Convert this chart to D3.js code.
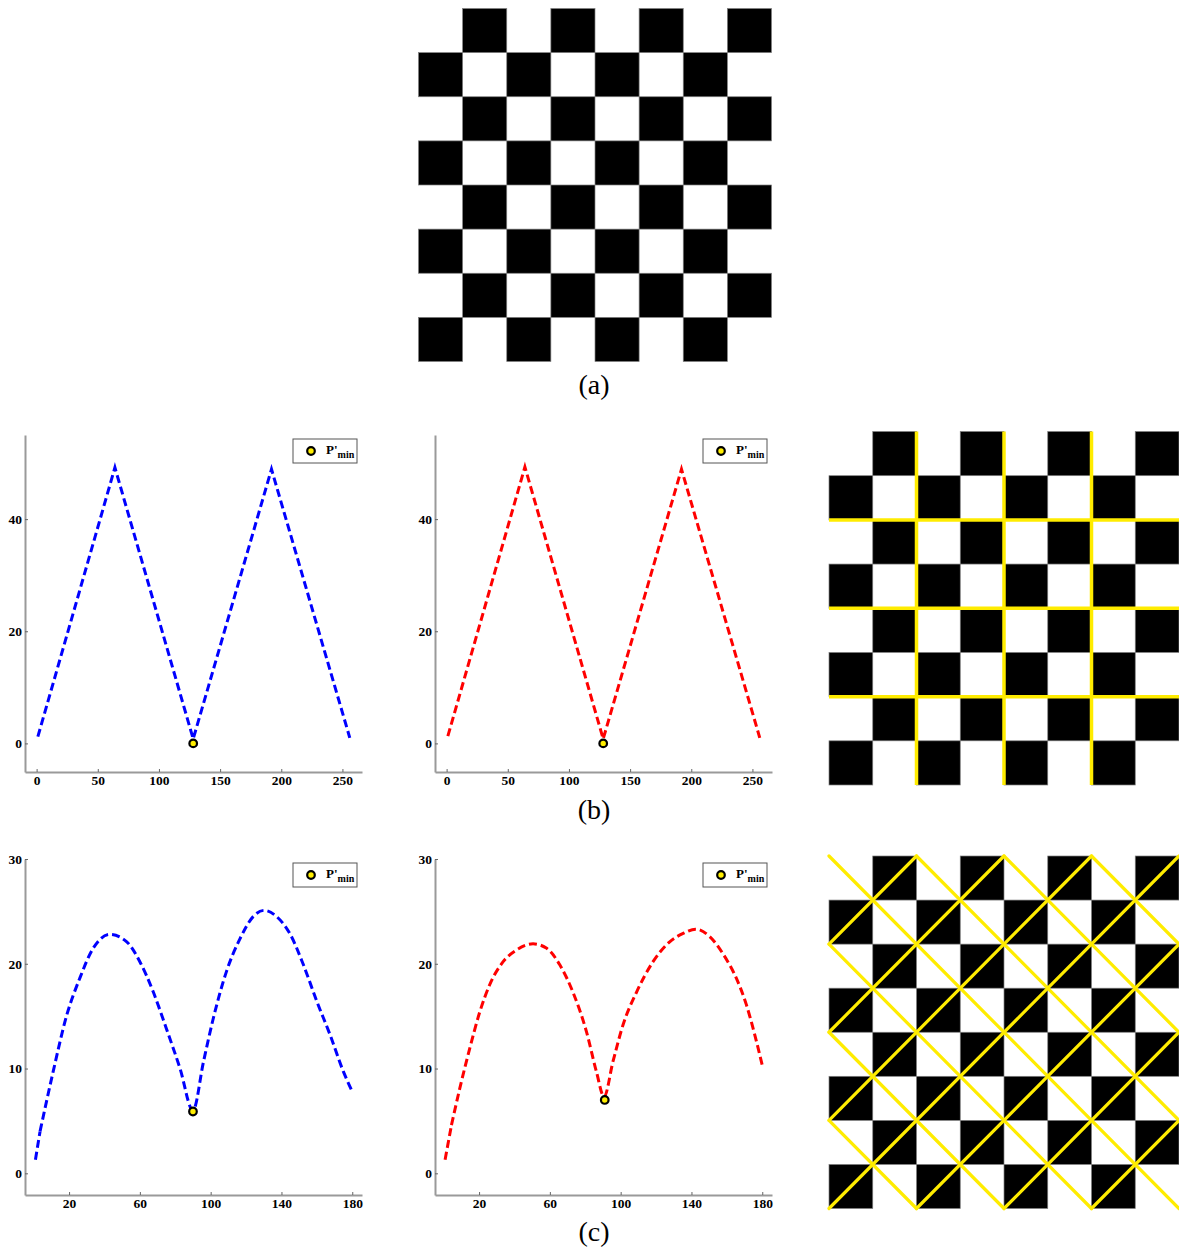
<!DOCTYPE html>
<html><head><meta charset="utf-8">
<script src="https://cdn.jsdelivr.net/npm/d3@7"></script>
<style>body{margin:0;background:#fff}svg{display:block}</style>
</head><body><svg id="chart" width="1179" height="1249"></svg>
<script>
// ---------- data ----------
const boardPattern = [
  "01010101",
  "10101010",
  "01010101",
  "10101010",
  "01010101",
  "10101010",
  "01010101",
  "10101010"
];
const boardBGridLines = [2, 4, 6];
const boardCMainDiag = [-6, -4, -2, 0, 2, 4, 6];   // c - r
const boardCAntiDiag = [2, 4, 6, 8, 10, 12, 14];   // c + r

const bX = [1, 64, 128, 192, 256];
const bBlue = [1.2, 49.2, 0.8, 48.9, 1.0];
const bRed = [1.3, 49.3, 0.8, 48.9, 1.0];
const bMinBlue = [128, 0];
const bMinRed = [128, 0];
const bXTicks = [0, 50, 100, 150, 200, 250];
const bYTicks = [0, 20, 40];

const cXBlue = [1, 3.6, 11, 18.7, 26, 33.7, 43, 52.6, 60, 67.6, 75, 82.7, 90,
                96, 101.5, 109, 116.6, 124, 130.3, 137.3, 145, 152.4, 160, 167.5, 175, 180];
const cBlue  = [1.3, 4.0, 9.7, 15.1, 18.6, 21.5, 22.8, 22.1, 20.2, 17.3, 13.8, 10.0, 6.0,
                10.7, 14.8, 19.3, 22.4, 24.5, 25.1, 24.5, 22.8, 19.9, 16.4, 13.2, 9.7, 7.8];
const cXRed = [0.8, 4.4, 9.1, 14.7, 20.4, 26, 33.6, 41, 50.5, 58, 65.6, 73, 80.7, 86.3, 90.6,
               95.7, 101.4, 109, 118.3, 127.7, 135.3, 142.4, 150.3, 158, 165.4, 171, 175.8, 180];
const cRed  = [1.3, 4.6, 8.1, 11.9, 15.4, 18.0, 20.2, 21.3, 21.9, 21.5, 19.9, 17.3, 13.5, 9.7, 7.3,
               10.7, 14.2, 17.3, 20.2, 22.1, 22.9, 23.3, 22.6, 20.9, 18.6, 16.1, 13.2, 10.3];
const cMinBlue = [90, 5.9];
const cMinRed = [91, 7.0];
const cXTicks = [20, 60, 100, 140, 180];
const cYTicks = [0, 10, 20, 30];

const legendMain = "P'";
const legendSub = "min";
const panelLabels = ["(a)", "(b)", "(c)"];

// ---------- drawing ----------
const svg = d3.select("#chart");
const YELLOW = "#ffec00";
const SERIF = "'Liberation Serif', 'Times New Roman', serif";

function drawBoard(x0, y0, w, h) {
  const g = svg.append("g");
  const cols = d3.range(boardPattern[0].length);
  const rows = d3.range(boardPattern.length);
  const xs = d3.scaleBand().domain(cols).range([x0, x0 + w]);
  const ys = d3.scaleBand().domain(rows).range([y0, y0 + h]);
  const cells = [];
  rows.forEach(r => cols.forEach(c => cells.push({r, c, v: boardPattern[r][c]})));
  g.selectAll("rect").data(cells.filter(d => d.v === "1")).join("rect")
    .attr("x", d => xs(d.c)).attr("y", d => ys(d.r))
    .attr("width", xs.bandwidth()).attr("height", ys.bandwidth())
    .attr("fill", "#000").attr("stroke", "#808080").attr("stroke-width", 0.7);
  const lx = d3.scaleLinear().domain([0, cols.length]).range([x0, x0 + w]);
  const ly = d3.scaleLinear().domain([0, rows.length]).range([y0, y0 + h]);
  return {g, lx, ly, n: cols.length};
}

// (a)
drawBoard(418.5, 8.5, 353, 353);

// (b) right board with grid lines
{
  const {g, lx, ly, n} = drawBoard(829, 431.5, 350, 353.5);
  g.selectAll("line.v").data(boardBGridLines).join("line").attr("class", "v")
    .attr("x1", d => lx(d)).attr("x2", d => lx(d)).attr("y1", ly(0)).attr("y2", ly(n))
    .attr("stroke", YELLOW).attr("stroke-width", 3.5);
  g.selectAll("line.h").data(boardBGridLines).join("line").attr("class", "h")
    .attr("y1", d => ly(d)).attr("y2", d => ly(d)).attr("x1", lx(0)).attr("x2", lx(n))
    .attr("stroke", YELLOW).attr("stroke-width", 3.5);
}

// (c) right board with diagonals
{
  const {g, lx, ly, n} = drawBoard(829, 856, 350, 352.5);
  const mainSegs = boardCMainDiag.map(k => {
    const c1 = Math.max(0, k), c2 = Math.min(n, n + k);
    return [[c1, c1 - k], [c2, c2 - k]];
  });
  const antiSegs = boardCAntiDiag.map(k => {
    const c1 = Math.max(0, k - n), c2 = Math.min(n, k);
    return [[c1, k - c1], [c2, k - c2]];
  });
  g.selectAll("line.d").data(mainSegs.concat(antiSegs)).join("line").attr("class", "d")
    .attr("x1", d => lx(d[0][0])).attr("y1", d => ly(d[0][1]))
    .attr("x2", d => lx(d[1][0])).attr("y2", d => ly(d[1][1]))
    .attr("stroke", YELLOW).attr("stroke-width", 3.2).attr("stroke-linecap", "round");
}

function drawPlot(opt) {
  const {left, top, width, height, xDom, yDom, xTicks, yTicks, xs, ys, color, minPt, curved} = opt;
  const g = svg.append("g");
  const x = d3.scaleLinear().domain(xDom).range([left, left + width]);
  const y = d3.scaleLinear().domain(yDom).range([top + height, top]);

  const ax = g.append("g").attr("transform", `translate(0,${top + height})`)
    .call(d3.axisBottom(x).tickValues(xTicks).tickSizeInner(-3).tickSizeOuter(0).tickPadding(3));
  const ay = g.append("g").attr("transform", `translate(${left},0)`)
    .call(d3.axisLeft(y).tickValues(yTicks).tickSizeInner(-3).tickSizeOuter(0).tickPadding(3));
  [ax, ay].forEach(a => {
    a.select(".domain").attr("stroke", "#9a9a9a").attr("stroke-width", 2);
    a.selectAll(".tick line").attr("stroke", "#666").attr("stroke-width", 1);
    a.selectAll(".tick text").attr("fill", "#000")
      .attr("font-family", SERIF)
      .attr("font-weight", "bold").attr("font-size", 13.5);
  });

  const pts = xs.map((v, i) => [v, ys[i]]);
  const line = d3.line().x(d => x(d[0])).y(d => y(d[1]));
  const styleLine = p => p.attr("fill", "none").attr("stroke", color)
    .attr("stroke-width", 3).attr("stroke-dasharray", "8,4");
  if (curved) {
    line.curve(d3.curveMonotoneX);
    let mi = 0; pts.forEach((p, i) => { if (p[1] < pts[mi][1] && p[0] > 50 && p[0] < 130) mi = i; });
    if (mi === 0) { mi = 1; pts.forEach((p, i) => { if (i > 0 && i < pts.length - 1 && p[1] < pts[mi][1] && p[0] > 50) mi = i; }); }
    [pts.slice(0, mi + 1), pts.slice(mi)].forEach(seg => {
      g.append("path").attr("d", line(seg)).call(styleLine);
    });
  } else {
    g.append("path").attr("d", line(pts)).call(styleLine);
  }

  g.append("circle").attr("cx", x(minPt[0])).attr("cy", y(minPt[1])).attr("r", 3.8)
    .attr("fill", "#ffee00").attr("stroke", "#000").attr("stroke-width", 2.2);

  // legend
  const lx0 = left + width - 69, ly0 = top + 4;
  const lg = g.append("g");
  lg.append("rect").attr("x", lx0).attr("y", ly0).attr("width", 64).attr("height", 24)
    .attr("fill", "#fff").attr("stroke", "#555").attr("stroke-width", 1);
  lg.append("circle").attr("cx", lx0 + 18).attr("cy", ly0 + 12).attr("r", 3.8)
    .attr("fill", "#ffee00").attr("stroke", "#000").attr("stroke-width", 2.2);
  const t = lg.append("text").attr("x", lx0 + 33).attr("y", ly0 + 15)
    .attr("font-family", SERIF)
    .attr("font-weight", "bold").attr("font-size", 13);
  t.append("tspan").text(legendMain);
  t.append("tspan").attr("dy", 4).attr("font-size", 10).text(legendSub);
}

const bCommon = {top: 435, width: 337, height: 337, xDom: [-9.5, 266], yDom: [-5.1, 55],
  xTicks: bXTicks, yTicks: bYTicks, xs: bX, curved: false};
drawPlot({...bCommon, left: 25, ys: bBlue, color: "#0000ff", minPt: bMinBlue});
drawPlot({...bCommon, left: 435, ys: bRed, color: "#ff0000", minPt: bMinRed});

const cCommon = {top: 859, width: 337, height: 336, xDom: [-4.9, 185.5], yDom: [-2.07, 30],
  xTicks: cXTicks, yTicks: cYTicks, curved: true};
drawPlot({...cCommon, left: 25, xs: cXBlue, ys: cBlue, color: "#0000ff", minPt: cMinBlue});
drawPlot({...cCommon, left: 435, xs: cXRed, ys: cRed, color: "#ff0000", minPt: cMinRed});

// panel labels
const labelY = [394, 819, 1241];
svg.selectAll("text.panel").data(panelLabels).join("text").attr("class", "panel")
  .attr("x", 594).attr("y", (d, i) => labelY[i]).attr("text-anchor", "middle")
  .attr("font-family", SERIF)
  .attr("font-size", 28).attr("fill", "#000").text(d => d);
</script>
</body></html>
